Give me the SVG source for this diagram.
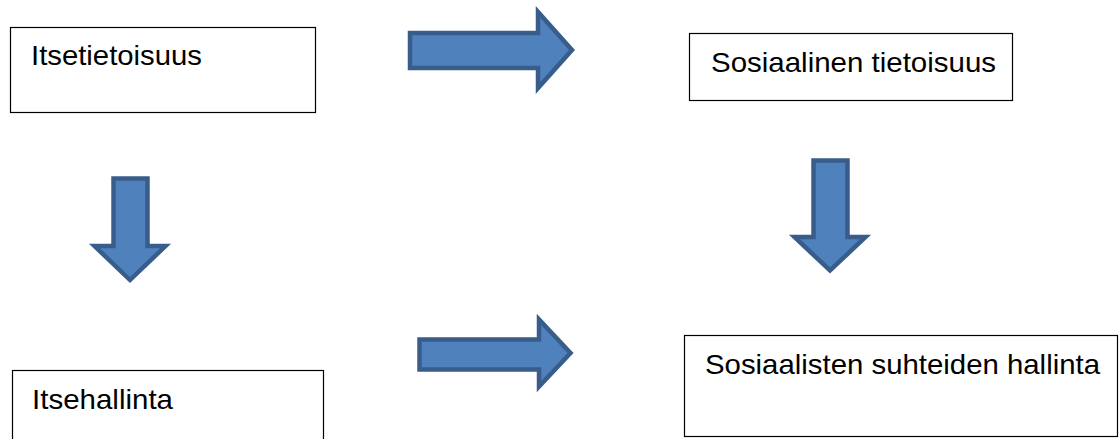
<svg xmlns="http://www.w3.org/2000/svg" width="1119" height="439" viewBox="0 0 1119 439">
<style>
.box{fill:#fff;stroke:#000;stroke-width:1.2}
.lbl{font-family:"Liberation Sans",Arial,sans-serif;font-size:28px;fill:#000}
.arr{fill:#4f81bd;stroke:#385d8a;stroke-width:4.5;stroke-linejoin:miter}
</style>
<rect width="1119" height="439" fill="#fff"/>
<g id="connectors">
<path class="arr" d="M410,33 H538 V12 L572,50 L538,88 V68 H410 Z"/>
<path class="arr" d="M113.5,178.5 H147.5 V246 H165.5 L130,280 L94.5,246 H113.5 Z"/>
<path class="arr" d="M813.5,160.5 H847.5 V237 H865.5 L830,270.5 L794.5,237 H813.5 Z"/>
<path class="arr" d="M419.5,339.5 H539 V319.5 L570.5,353 L539,386.5 V369.5 H419.5 Z"/>
</g>
<g id="node-itsetietoisuus">
<rect class="box" x="10.5" y="27.5" width="305" height="85"/>
<text class="lbl" x="31" y="65" textLength="171" lengthAdjust="spacingAndGlyphs">Itsetietoisuus</text>
</g>
<g id="node-sosiaalinen-tietoisuus">
<rect class="box" x="689.5" y="33.5" width="323" height="67"/>
<text class="lbl" x="711" y="72" textLength="285" lengthAdjust="spacingAndGlyphs">Sosiaalinen tietoisuus</text>
</g>
<g id="node-itsehallinta">
<rect class="box" x="12.5" y="370.5" width="311" height="80"/>
<text class="lbl" x="32" y="409" textLength="141" lengthAdjust="spacingAndGlyphs">Itsehallinta</text>
</g>
<g id="node-sosiaalisten-suhteiden-hallinta">
<rect class="box" x="684.5" y="335.5" width="433" height="101"/>
<text class="lbl" x="705" y="374" textLength="395" lengthAdjust="spacingAndGlyphs">Sosiaalisten suhteiden hallinta</text>
</g>
</svg>
